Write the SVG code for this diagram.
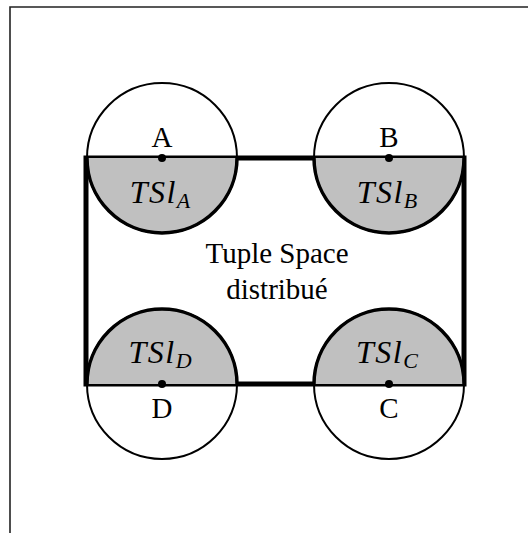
<svg xmlns="http://www.w3.org/2000/svg" width="528" height="533" viewBox="0 0 528 533">
  <style>
    .frame { fill: none; stroke: #222; stroke-width: 1.6; }
    .space { fill: none; stroke: #000; stroke-width: 5; stroke-linejoin: miter; }
    .half { fill: #c0c0c0; stroke: none; }
    .ring { fill: none; stroke: #000; stroke-width: 2; }
    .arc { fill: none; stroke: #000; stroke-width: 3.5; }
    .dot { fill: #000; }
    .lbl { font-family: "Liberation Serif", "DejaVu Serif", serif; font-size: 29px; fill: #000; text-anchor: middle; }
    .ts { font-family: "Liberation Serif", "DejaVu Serif", serif; font-style: italic; font-size: 32px; letter-spacing: 1.5px; fill: #000; text-anchor: middle; }
    .sub { font-size: 22px; letter-spacing: 0; }
  </style>
  <rect x="0" y="0" width="528" height="533" fill="#fff"/>
  <path class="frame" d="M10,533 L10,7 L528,7"/>

  <g id="connectors">
    <rect class="space" x="86" y="158" width="378" height="226"/>
  </g>

  <g id="nodeA">
    <path class="half" d="M87,158 A75,75 0 0 0 237,158 Z"/>
    <circle class="ring" cx="162" cy="158" r="75"/>
    <path class="arc" d="M87,158 A75,75 0 0 0 237,158"/>
    <circle class="dot" cx="162" cy="158" r="4"/>
    <text class="lbl" x="162" y="147">A</text>
    <text class="ts" x="160" y="203">TSl<tspan class="sub" dy="5">A</tspan></text>
  </g>

  <g id="nodeB">
    <path class="half" d="M314,158 A75,75 0 0 0 464,158 Z"/>
    <circle class="ring" cx="389" cy="158" r="75"/>
    <path class="arc" d="M314,158 A75,75 0 0 0 464,158"/>
    <circle class="dot" cx="389" cy="158" r="4"/>
    <text class="lbl" x="389" y="147">B</text>
    <text class="ts" x="387" y="203">TSl<tspan class="sub" dy="5">B</tspan></text>
  </g>

  <g id="nodeD">
    <path class="half" d="M87,384 A75,75 0 0 1 237,384 Z"/>
    <circle class="ring" cx="162" cy="384" r="75"/>
    <path class="arc" d="M87,384 A75,75 0 0 1 237,384"/>
    <circle class="dot" cx="162" cy="384" r="4"/>
    <text class="lbl" x="162" y="418">D</text>
    <text class="ts" x="160" y="363">TSl<tspan class="sub" dy="5">D</tspan></text>
  </g>

  <g id="nodeC">
    <path class="half" d="M314,384 A75,75 0 0 1 464,384 Z"/>
    <circle class="ring" cx="389" cy="384" r="75"/>
    <path class="arc" d="M314,384 A75,75 0 0 1 464,384"/>
    <circle class="dot" cx="389" cy="384" r="4"/>
    <text class="lbl" x="389" y="418">C</text>
    <text class="ts" x="387" y="363">TSl<tspan class="sub" dy="5">C</tspan></text>
  </g>

  <g id="space-label">
    <text class="lbl" x="277" y="263">Tuple Space</text>
    <text class="lbl" x="277" y="299">distribué</text>
  </g>
</svg>
